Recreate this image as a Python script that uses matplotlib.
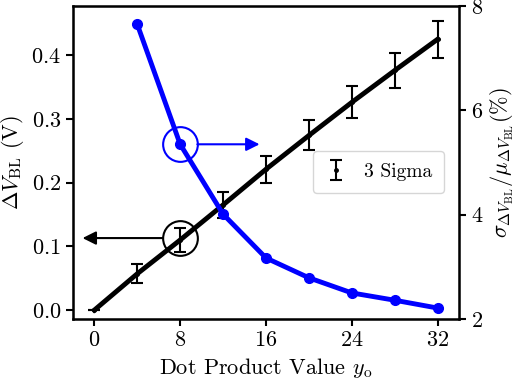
import matplotlib
matplotlib.use("Agg")
import matplotlib.pyplot as plt

plt.rcParams['font.family'] = 'serif'
plt.rcParams['font.serif'] = ['cmr10']
plt.rcParams['mathtext.fontset'] = 'cm'
plt.rcParams['axes.formatter.use_mathtext'] = True
plt.rcParams['axes.unicode_minus'] = False

# dot product values
x_vals = [0, 4, 8, 12, 16, 20, 24, 28, 32]
dv_bl = [0.0, 0.057, 0.11, 0.165, 0.221, 0.274, 0.326, 0.376, 0.425]
dv_err = [0.0, 0.0146, 0.019, 0.02, 0.021, 0.0235, 0.025, 0.027, 0.029]

x_ratio = [4, 8, 12, 16, 20, 24, 28, 32]
ratio = [7.65, 5.35, 4.01, 3.17, 2.79, 2.50, 2.36, 2.21]

fig = plt.figure(figsize=(5.17, 3.80), dpi=100)
ax = fig.add_axes([0.141, 0.1605, 0.747, 0.8235])

ax.plot(x_vals, dv_bl, color='black', lw=3.5, zorder=2)
ax.errorbar(x_vals, dv_bl, yerr=dv_err, fmt='.', color='black', ms=5,
            elinewidth=1.5, capsize=4, capthick=1.5, label='3 Sigma', zorder=3)

ax.set_xlim(-2, 34)
ax.set_ylim(-0.014, 0.477)
ax.set_xticks([0, 8, 16, 24, 32])
ax.set_yticks([0.0, 0.1, 0.2, 0.3, 0.4])
ax.set_xlabel(r'Dot Product Value $y_{\rm o}$', fontsize=16)
ax.set_ylabel(r'$\Delta V_{\rm BL}$ (V)', fontsize=16)
ax.tick_params(labelsize=16, width=1.5, length=5)
for s in ax.spines.values():
    s.set_linewidth(1.8)

# black circle and arrow pointing to the left axis
ax.plot([8], [0.113], 'o', mfc='none', mec='black', ms=25, mew=1.5)
ax.annotate('', xy=(-1.1, 0.113), xytext=(6.4, 0.113),
            arrowprops=dict(arrowstyle='-|>', color='black', lw=1.5,
                            mutation_scale=20, shrinkA=0, shrinkB=0))

ax.legend(loc='center right', bbox_to_anchor=(0.985, 0.47), fontsize=14,
          handlelength=1.2, borderpad=0.6)

ax2 = ax.twinx()
ax2.plot(x_ratio, ratio, '-o', color='blue', lw=3.5, ms=7)
ax2.set_ylim(2, 8)
ax2.set_yticks([2, 4, 6, 8])
ax2.set_ylabel(r'$\sigma_{\Delta V_{\rm BL}}/\mu_{\Delta V_{\rm BL}}$(%)', fontsize=16)
ax2.tick_params(labelsize=16, width=1.5, length=5)

# blue circle and arrow pointing to the right axis
ax2.plot([8], [5.35], 'o', mfc='none', mec='blue', ms=25, mew=1.5)
ax2.annotate('', xy=(15.4, 5.35), xytext=(9.6, 5.35),
             arrowprops=dict(arrowstyle='-|>', color='blue', lw=1.5,
                             mutation_scale=20, shrinkA=0, shrinkB=0))

fig.savefig('out.png', dpi=100)
